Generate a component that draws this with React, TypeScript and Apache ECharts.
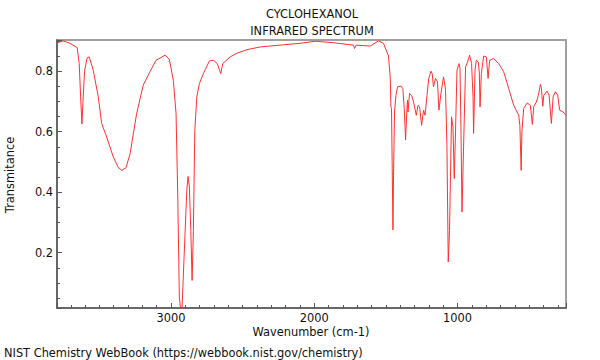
import React, { useEffect, useRef } from "react";
import * as echarts from "echarts";

const titleLines = ["CYCLOHEXANOL", "INFRARED SPECTRUM"];
const xAxisName = "Wavenumber (cm-1)";
const yAxisName = "Transmitance";
const footerText = "NIST Chemistry WebBook (https://webbook.nist.gov/chemistry)";

const xRange = [243, 3796];
const yRange = [0.017, 0.903];

const wavenumbers = [
  3794, 3752, 3706, 3655, 3641, 3631, 3622, 3613, 3603, 3585, 3571, 3543, 3508, 3484,
  3449, 3403, 3368, 3344, 3314, 3286, 3240, 3194, 3147, 3105, 3077, 3042, 3012, 2984,
  2965, 2953, 2942, 2932, 2923, 2909, 2890, 2881, 2872, 2862, 2853, 2844, 2834, 2820,
  2802, 2774, 2732, 2704, 2677, 2653, 2639, 2588, 2541, 2471, 2378, 2239, 2099, 1994,
  1866, 1726, 1719, 1708, 1610, 1552, 1517, 1482, 1470, 1465, 1461, 1456, 1451, 1447,
  1440, 1430, 1419, 1396, 1382, 1372, 1363, 1353, 1349, 1346, 1335, 1321, 1307, 1288,
  1276, 1265, 1251, 1237, 1227, 1213, 1201, 1186, 1177, 1168, 1154, 1140, 1130, 1116,
  1098, 1084, 1074, 1065, 1056, 1042, 1032, 1023, 1014, 1004, 990, 983, 976, 969, 958,
  944, 930, 916, 902, 892, 888, 878, 869, 855, 848, 843, 834, 818, 799, 787, 776, 748,
  713, 678, 643, 608, 573, 565, 556, 551, 538, 514, 492, 478, 468, 450, 436, 422, 415,
  405, 398, 375, 361, 345, 333, 317, 301, 287, 263, 243,
];

const transmittance = [
  0.894, 0.9, 0.892, 0.878, 0.825, 0.715, 0.625, 0.715, 0.803, 0.845, 0.847, 0.803, 0.715, 0.627,
  0.582, 0.516, 0.481, 0.472, 0.481, 0.527, 0.66, 0.754, 0.798, 0.836, 0.843, 0.853, 0.839, 0.77,
  0.66, 0.384, 0.053, 0.01, 0.02, 0.185, 0.406, 0.452, 0.417, 0.273, 0.108, 0.273, 0.605, 0.715,
  0.759, 0.792, 0.834, 0.836, 0.825, 0.792, 0.825, 0.847, 0.859, 0.871, 0.88, 0.886, 0.892, 0.899,
  0.894, 0.886, 0.875, 0.886, 0.883, 0.9, 0.892, 0.85, 0.78, 0.682, 0.677, 0.478, 0.275, 0.456,
  0.665, 0.72, 0.748, 0.751, 0.743, 0.677, 0.572, 0.677, 0.704, 0.665, 0.726, 0.72, 0.698, 0.654,
  0.687, 0.682, 0.621, 0.671, 0.654, 0.72, 0.776, 0.8, 0.792, 0.748, 0.776, 0.765, 0.671, 0.726,
  0.781, 0.74, 0.55, 0.169, 0.273, 0.649, 0.616, 0.445, 0.605, 0.803, 0.825, 0.81, 0.605, 0.334, 0.55,
  0.814, 0.83, 0.853, 0.825, 0.715, 0.594, 0.803, 0.836, 0.83, 0.794, 0.682, 0.792, 0.85, 0.847, 0.776, 0.836, 0.842,
  0.825, 0.798, 0.743, 0.687, 0.654, 0.62, 0.472, 0.6, 0.677, 0.695, 0.687, 0.624, 0.683, 0.698, 0.72, 0.756, 0.745,
  0.684, 0.72, 0.734, 0.721, 0.627, 0.715, 0.732, 0.721, 0.671, 0.665, 0.654,
];

const FONT = "DejaVu Sans";
const FS = 11.4;
const AXIS_COLOR = "#555";
const TEXT_COLOR = "#111";

export default function App() {
  const ref = useRef<HTMLDivElement>(null);

  useEffect(() => {
    if (!ref.current) return;
    const chart = echarts.init(ref.current, undefined, { renderer: "svg" });
    const points = wavenumbers.map((w, i) => [w, transmittance[i]]);
    const textStyle = (text: string, x: number, y: number, align: string) => ({
      text,
      x,
      y,
      align,
      verticalAlign: "middle",
      font: `${FS}px ${FONT}`,
      fill: TEXT_COLOR,
    });
    chart.setOption({
      animation: false,
      backgroundColor: "#fff",
      grid: {
        left: 57,
        right: 34,
        top: 40,
        bottom: 52,
        show: true,
        borderColor: "#a0a0a0",
        borderWidth: 2,
        containLabel: false,
      },
      xAxis: {
        type: "value",
        inverse: true,
        min: xRange[0],
        max: xRange[1],
        splitNumber: 5,
        axisLine: { show: true, lineStyle: { color: AXIS_COLOR, width: 1.5 } },
        axisTick: { show: true, inside: true, length: 5, lineStyle: { color: AXIS_COLOR } },
        minorTick: { show: true, splitNumber: 10, length: 3, lineStyle: { color: AXIS_COLOR } },
        splitLine: { show: false },
        minorSplitLine: { show: false },
        axisLabel: {
          showMinLabel: false,
          showMaxLabel: false,
          color: TEXT_COLOR,
          fontSize: FS,
          fontFamily: FONT,
          margin: 4,
          formatter: (v: number) => String(Math.round(v)),
        },
      },
      yAxis: {
        type: "value",
        min: yRange[0],
        max: yRange[1],
        splitNumber: 5,
        axisLine: { show: true, lineStyle: { color: AXIS_COLOR, width: 1.5 } },
        axisTick: { show: true, inside: true, length: 5, lineStyle: { color: AXIS_COLOR } },
        minorTick: { show: true, splitNumber: 4, length: 3, lineStyle: { color: AXIS_COLOR } },
        splitLine: { show: false },
        minorSplitLine: { show: false },
        axisLabel: {
          showMinLabel: false,
          showMaxLabel: false,
          color: TEXT_COLOR,
          fontSize: FS,
          fontFamily: FONT,
          margin: 4,
          formatter: (v: number) => v.toFixed(1),
        },
      },
      series: [
        {
          type: "line",
          data: points,
          showSymbol: false,
          symbol: "none",
          clip: true,
          lineStyle: { color: "#ff3030", width: 1 },
          emphasis: { disabled: true },
        },
      ],
      graphic: [
        { type: "text", style: textStyle(titleLines[0], 312, 14, "center") },
        { type: "text", style: textStyle(titleLines[1], 312, 31, "center") },
        { type: "text", style: textStyle(xAxisName, 311, 332, "center") },
        {
          type: "text",
          x: 10,
          y: 175,
          rotation: Math.PI / 2,
          style: textStyle(yAxisName, 0, 0, "center"),
        },
        { type: "text", style: textStyle(footerText, 4, 353, "left") },
      ],
    });
    return () => chart.dispose();
  }, []);

  return (
    <div
      ref={ref}
      style={{ position: "fixed", left: 0, top: 0, width: 600, height: 360 }}
    />
  );
}
